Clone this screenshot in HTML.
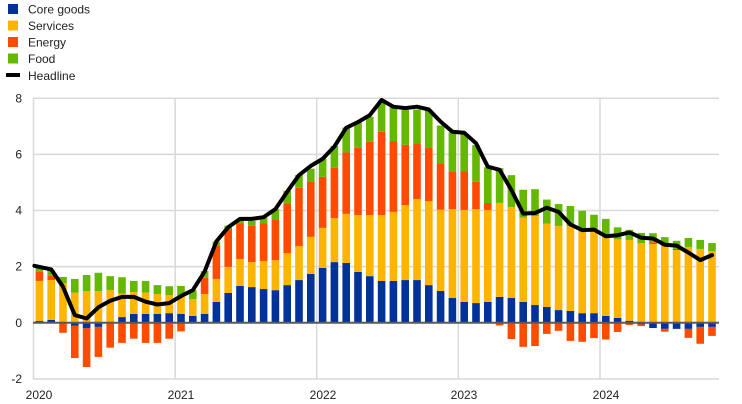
<!DOCTYPE html>
<html><head><meta charset="utf-8">
<style>
html,body{margin:0;padding:0;background:#fff;}
svg{display:block;font-family:"Liberation Sans",Arial,sans-serif;}
</style></head>
<body>
<svg id="c" width="742" height="404" viewBox="0 0 742 404" xmlns="http://www.w3.org/2000/svg">
<rect width="742" height="404" fill="#fff"/>
<g stroke="#d9d9d9" stroke-width="1.5">
<line x1="33" y1="98.3" x2="719" y2="98.3"/>
<line x1="33" y1="154.4" x2="719" y2="154.4"/>
<line x1="33" y1="210.5" x2="719" y2="210.5"/>
<line x1="33" y1="266.6" x2="719" y2="266.6"/>
<line x1="33" y1="379" x2="719" y2="379"/>
<line x1="33.5" y1="98" x2="33.5" y2="379"/>
<line x1="175.1" y1="98" x2="175.1" y2="379"/>
<line x1="316.7" y1="98" x2="316.7" y2="379"/>
<line x1="458.3" y1="98" x2="458.3" y2="379"/>
<line x1="600" y1="98" x2="600" y2="379"/>
</g>
<g id="bars"></g>
<line x1="33" y1="322.7" x2="719" y2="322.7" stroke="#595959" stroke-width="2"/>
<polyline id="hl" fill="none" stroke="#000" stroke-width="4" stroke-linejoin="round" stroke-linecap="round"/>
<g font-size="12" fill="#222" text-anchor="end">
<text x="22" y="102.5">8</text>
<text x="22" y="158.5">6</text>
<text x="22" y="214.5">4</text>
<text x="22" y="270.5">2</text>
<text x="22" y="327">0</text>
<text x="22" y="383">-2</text>
</g>
<g font-size="12" fill="#222" text-anchor="middle">
<text x="39" y="399">2020</text>
<text x="181" y="399">2021</text>
<text x="323" y="399">2022</text>
<text x="464" y="399">2023</text>
<text x="606" y="399">2024</text>
</g>
<g font-size="12" fill="#222">
<rect x="8" y="4" width="10" height="10" fill="#003299"/><text x="28" y="13.5">Core goods</text>
<rect x="8" y="20.5" width="10" height="10" fill="#ffb400"/><text x="28" y="30">Services</text>
<rect x="8" y="37" width="10" height="10" fill="#ff4b00"/><text x="28" y="46.5">Energy</text>
<rect x="8" y="53.5" width="10" height="10" fill="#65b800"/><text x="28" y="63">Food</text>
<line x1="6" y1="75" x2="20" y2="75" stroke="#000" stroke-width="4"/><text x="28" y="80">Headline</text>
</g>
</svg>
<script>
// [core, services, energy, food, headline]
var d=[
[0.06,1.43,0.33,0.14,2.03],[0.1,1.42,0.15,0.2,1.9],[0,1.4,-0.36,0.23,1.28],[-0.1,1.07,-1.16,0.49,0.27],
[-0.2,1.13,-1.38,0.57,0.15],[-0.15,1.13,-1.07,0.65,0.55],[0,1.16,-0.89,0.5,0.78],[0.2,0.84,-0.72,0.58,0.92],
[0.31,0.78,-0.57,0.4,0.92],[0.31,0.76,-0.72,0.42,0.75],[0.31,0.71,-0.72,0.32,0.65],[0.34,0.64,-0.57,0.32,0.7],
[0.31,0.65,-0.31,0.35,0.95],[0.24,0.6,0,0.32,1.16],[0.31,0.71,0.58,0.24,1.82],[0.74,0.82,1.19,0.14,2.9],
[1.06,0.93,1.35,0.12,3.4],[1.31,0.96,1.28,0.1,3.7],[1.27,0.89,1.3,0.17,3.7],[1.2,1.0,1.35,0.19,3.76],
[1.16,1.07,1.46,0.36,4.05],[1.34,1.14,1.78,0.44,4.67],[1.52,1.21,2.08,0.46,5.26],[1.74,1.32,1.97,0.46,5.59],
[1.95,1.43,1.82,0.65,5.84],[2.16,1.57,1.79,0.78,6.28],[2.13,1.75,2.19,0.89,6.95],[1.81,2.03,2.4,0.89,7.15],
[1.66,2.18,2.61,0.89,7.4],[1.49,2.35,2.97,1.1,7.94],[1.49,2.46,2.51,1.22,7.7],[1.52,2.67,2.15,1.24,7.65],
[1.52,2.89,1.98,1.21,7.7],[1.34,2.99,1.9,1.34,7.6],[1.13,2.9,1.65,1.35,7.17],[0.88,3.17,1.35,1.39,6.81],
[0.74,3.28,1.37,1.33,6.77],[0.7,3.35,0.97,1.31,6.4],[0.74,3.28,0.25,1.27,5.56],[0.92,3.35,-0.1,1.24,5.45],
[0.88,3.24,-0.58,1.14,4.73],[0.74,3.0,-0.86,1.0,3.89],[0.63,3.17,-0.83,0.96,3.91],[0.56,2.97,-0.4,0.86,4.1],
[0.45,3.0,-0.29,0.78,3.95],[0.42,3.03,-0.65,0.71,3.5],[0.34,2.9,-0.68,0.75,3.3],[0.34,2.9,-0.55,0.61,3.32],
[0.24,2.82,-0.6,0.64,3.08],[0.17,2.8,-0.33,0.43,3.12],[0.07,2.88,-0.08,0.36,3.22],[-0.06,2.84,-0.06,0.36,3.03],
[-0.19,2.8,0.07,0.32,3.0],[-0.22,2.73,-0.1,0.32,2.78],[-0.22,2.59,0.04,0.29,2.75],[-0.22,2.7,-0.32,0.32,2.5],
[-0.15,2.63,-0.6,0.32,2.23],[-0.15,2.55,-0.32,0.29,2.41]];
var Y0=322.7,U=28.05,W=7.6,cols=["#003299","#ffb400","#ff4b00","#65b800"];
var g=document.getElementById("bars"),ns="http://www.w3.org/2000/svg",pts=[];
d.forEach(function(r,i){
 var cx=33.5+(i+0.5)*11.8,pos=0,neg=0;
 for(var k=0;k<4;k++){var v=r[k];if(!v)continue;var y0,y1;
  if(v>0){y0=pos;pos+=v;y1=pos;}else{y0=neg;neg+=v;y1=neg;}
  var a=Y0-Math.max(y0,y1)*U,b=Y0-Math.min(y0,y1)*U;
  var e=document.createElementNS(ns,"rect");
  e.setAttribute("x",cx-W/2);e.setAttribute("y",a);e.setAttribute("width",W);e.setAttribute("height",b-a);e.setAttribute("fill",cols[k]);g.appendChild(e);}
 pts.push((cx-(i==0?5:0)).toFixed(1)+","+(Y0-r[4]*U).toFixed(1));
});
document.getElementById("hl").setAttribute("points",pts.join(" "));
</script>
</body></html>
